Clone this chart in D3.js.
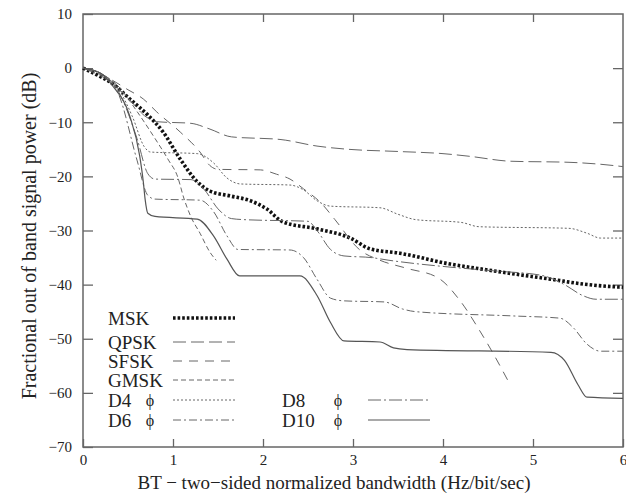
<!DOCTYPE html>
<html>
<head>
<meta charset="utf-8">
<script src="https://cdn.jsdelivr.net/npm/d3@7"></script>
<style>
  body { margin: 0; background: #fff; }
  text { font-family: "Liberation Serif", "DejaVu Serif", serif; fill: #222; }
</style>
</head>
<body>
<svg id="chart"></svg>
<script>
const width = 626;
const height = 500;
const margin = { left: 83, right: 3, top: 14, bottom: 53 };

const innerWidth  = width  - margin.left - margin.right;
const innerHeight = height - margin.top  - margin.bottom;

// data: [BT, dB]
const msk = [[0,0],[0.15,-1.2],[0.33,-2.9],[0.52,-5.7],[0.71,-8.5],[0.89,-11.8],[1.08,-16.8],[1.27,-21],[1.41,-22.7],[1.63,-23.6],[1.86,-24.5],[2.04,-26],[2.22,-28.4],[2.6,-29.7],[2.97,-31.4],[3.19,-33.4],[3.52,-34.2],[4.08,-36.2],[4.5,-37.3],[4.82,-38.1],[5.2,-39],[5.56,-39.9],[6,-40.5]];
const qpsk = [[0,0],[0.3,-2.5],[0.5,-5.5],[0.7,-9],[0.82,-9.9],[1.2,-10.2],[1.4,-11.2],[1.65,-12.7],[2.2,-13.2],[2.6,-14.4],[2.95,-15],[3.5,-15.4],[4.0,-15.8],[4.3,-16.3],[4.75,-17.2],[5.4,-17.4],[5.95,-18.1],[6,-18.2]];
const sfsk = [[0,0],[0.3,-2],[0.5,-4],[0.67,-5.7],[0.82,-8.1],[1.08,-11.8],[1.3,-15.5],[1.41,-18],[1.5,-18.7],[1.97,-18.8],[2.15,-19.6],[2.3,-20.5],[2.45,-22.3],[2.65,-25],[2.8,-28],[3.07,-33.5],[3.3,-35.5],[3.6,-37],[3.95,-38.8],[4.2,-43.2],[4.4,-48.3],[4.55,-52.5],[4.73,-58]];
const gmsk = [[0,0],[0.2,-1],[0.4,-3.5],[0.6,-8],[0.8,-13],[0.95,-17],[1.05,-20],[1.12,-24],[1.2,-27.5],[1.3,-30.5],[1.41,-34],[1.48,-35.5]];
const d4 = [[0,0],[0.2,-1],[0.4,-4],[0.55,-9],[0.68,-14.5],[0.75,-15.5],[1.27,-15.8],[1.45,-17.5],[1.6,-20.3],[1.75,-21.4],[2.3,-21.6],[2.45,-22.5],[2.6,-24.5],[2.75,-25.5],[3.3,-25.8],[3.5,-27],[3.7,-28],[4.2,-28.5],[4.4,-29.3],[5.4,-29.6],[5.6,-30.5],[5.75,-31.4],[6,-31.4]];
const d6 = [[0,0],[0.2,-1],[0.4,-5],[0.6,-17],[0.72,-23.5],[0.8,-24.2],[1.3,-24.4],[1.45,-26.5],[1.6,-31],[1.72,-33.5],[2.3,-33.6],[2.45,-35],[2.6,-39],[2.75,-42.5],[2.9,-43],[3.35,-43.2],[3.55,-44.5],[3.7,-45],[4.8,-45.8],[5.3,-46.2],[5.45,-48],[5.6,-51],[5.75,-52.3],[6,-52.3]];
const d8 = [[0,0],[0.2,-1],[0.4,-4.5],[0.6,-13],[0.72,-19.5],[0.8,-20.5],[1.2,-20.6],[1.35,-22.5],[1.5,-26],[1.65,-27.8],[1.8,-28],[2.5,-28.3],[2.6,-30],[2.75,-33.5],[2.9,-34.7],[3.2,-35],[3.4,-35.5],[4.1,-36.8],[4.6,-37.5],[5.1,-38.3],[5.35,-40],[5.55,-42],[5.7,-42.7],[6,-42.7]];
const d10 = [[0,0],[0.2,-1],[0.33,-3.3],[0.52,-8.9],[0.63,-16.2],[0.67,-21],[0.69,-24.2],[0.72,-26.8],[0.8,-27.4],[1.27,-27.9],[1.45,-31],[1.6,-35.3],[1.74,-38.4],[2.41,-38.4],[2.6,-42],[2.75,-47],[2.9,-50.4],[3.3,-50.6],[3.45,-51.7],[3.6,-52],[5.2,-52.5],[5.35,-54],[5.5,-58.5],[5.6,-60.8],[6,-61]];

const seriesNames = ["MSK", "QPSK", "SFSK", "GMSK", "D4", "D6", "D8", "D10"];
const seriesData  = [msk, qpsk, sfsk, gmsk, d4, d6, d8, d10];

const xTicks = [0, 1, 2, 3, 4, 5, 6];
const yTicks = [10, 0, -10, -20, -30, -40, -50, -60, -70];

// line styles
const styles = {
  MSK:  { stroke: "#111", width: 3.6, dash: "2.6,2" },
  QPSK: { stroke: "#666", width: 1, dash: "13,5" },
  SFSK: { stroke: "#666", width: 1, dash: "9,7" },
  GMSK: { stroke: "#666", width: 1, dash: "5,3" },
  D4:   { stroke: "#666", width: 1, dash: "2,2" },
  D6:   { stroke: "#666", width: 1, dash: "8,3,2,3" },
  D8:   { stroke: "#666", width: 1, dash: "13,3,2,3" },
  D10:  { stroke: "#555", width: 1.2, dash: null }
};

const svg = d3.select("#chart")
  .attr("width", width)
  .attr("height", height)
  .attr("viewBox", `0 0 ${width} ${height}`);

const g = svg.append("g")
  .attr("transform", `translate(${margin.left},${margin.top})`);

const x = d3.scaleLinear().domain([0, 6]).range([0, innerWidth]);
const y = d3.scaleLinear().domain([-70, 10]).range([innerHeight, 0]);

// frame
g.append("rect")
  .attr("width", innerWidth)
  .attr("height", innerHeight)
  .attr("fill", "none")
  .attr("stroke", "#666")
  .attr("stroke-width", 1.5);

// axes, ticks pointing inward, mirrored on top/right
const axisStyle = sel => {
  sel.select(".domain").remove();
  sel.selectAll(".tick line").attr("stroke", "#666").attr("stroke-width", 1.3);
  sel.selectAll("text").style("font-size", "15px").attr("fill", "#222");
};

g.append("g")
  .attr("transform", `translate(0,${innerHeight})`)
  .call(d3.axisBottom(x).tickValues(xTicks).tickSizeInner(-8).tickPadding(7).tickFormat(d3.format("d")))
  .call(axisStyle);

g.append("g")
  .call(d3.axisTop(x).tickValues(xTicks.slice(1, -1)).tickSizeInner(-8))
  .call(axisStyle)
  .call(a => a.selectAll("text").remove());

g.append("g")
  .call(d3.axisLeft(y).tickValues(yTicks).tickSizeInner(-10).tickPadding(11)
    .tickFormat(d => d < 0 ? "\u2212" + Math.abs(d) : d))
  .call(axisStyle);

g.append("g")
  .attr("transform", `translate(${innerWidth},0)`)
  .call(d3.axisRight(y).tickValues(yTicks.slice(1, -1)).tickSizeInner(-10))
  .call(axisStyle)
  .call(a => a.selectAll("text").remove());

// axis titles
svg.append("text")
  .attr("x", 334)
  .attr("y", 489)
  .attr("text-anchor", "middle")
  .style("font-size", "19px")
  .text("BT \u2212 two\u2212sided normalized bandwidth (Hz/bit/sec)");

svg.append("text")
  .attr("transform", `translate(36,${236}) rotate(-90)`)
  .attr("text-anchor", "middle")
  .style("font-size", "20px")
  .text("Fractional out of band signal power (dB)");

// curves
const line = d3.line()
  .x(d => x(d[0]))
  .y(d => y(d[1]))
  .curve(d3.curveMonotoneX);

const plot = g.append("g");
seriesNames.forEach((name, i) => {
  const s = styles[name];
  plot.append("path")
    .datum(seriesData[i])
    .attr("d", line)
    .attr("fill", "none")
    .attr("stroke", s.stroke)
    .attr("stroke-width", s.width)
    .attr("stroke-dasharray", s.dash);
});

// legend
const legendRows = [
  { name: "MSK",  label: "MSK",  tx: 108, ty: 318, phi: null, lx: 173 },
  { name: "QPSK", label: "QPSK", tx: 108, ty: 342, phi: null, lx: 173 },
  { name: "SFSK", label: "SFSK", tx: 108, ty: 361, phi: null, lx: 173 },
  { name: "GMSK", label: "GMSK", tx: 108, ty: 380, phi: null, lx: 173 },
  { name: "D4",   label: "D4",   tx: 108, ty: 400, phi: 150, lx: 173 },
  { name: "D6",   label: "D6",   tx: 108, ty: 420, phi: 150, lx: 173 },
  { name: "D8",   label: "D8",   tx: 282, ty: 400, phi: 338, lx: 368 },
  { name: "D10",  label: "D10",  tx: 282, ty: 420, phi: 338, lx: 368 }
];

const legend = svg.append("g");
legendRows.forEach(r => {
  const s = styles[r.name];
  legend.append("text")
    .attr("x", r.tx)
    .attr("y", r.ty)
    .attr("dy", "0.35em")
    .style("font-size", "19px")
    .text(r.label);
  if (r.phi !== null) {
    legend.append("text")
      .attr("x", r.phi)
      .attr("y", r.ty)
      .attr("dy", "0.35em")
      .attr("text-anchor", "middle")
      .style("font-size", "16px")
      .text("\u03d5");
  }
  legend.append("line")
    .attr("x1", r.lx)
    .attr("x2", r.lx + 62)
    .attr("y1", r.ty)
    .attr("y2", r.ty)
    .attr("stroke", s.stroke)
    .attr("stroke-width", s.width)
    .attr("stroke-dasharray", s.dash);
});
</script>
</body>
</html>
